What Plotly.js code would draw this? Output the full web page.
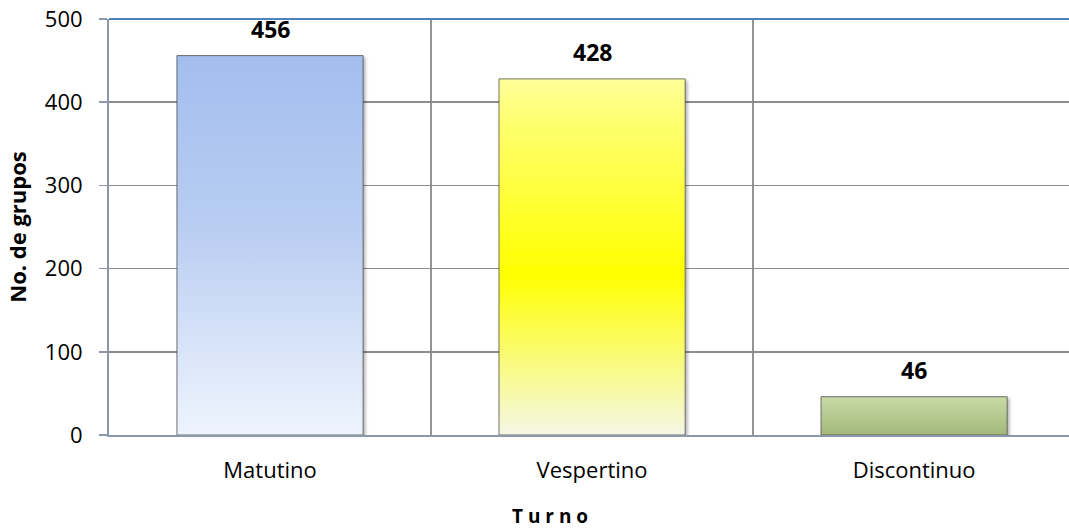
<!DOCTYPE html>
<html>
<head>
<meta charset="utf-8">
<script src="https://cdn.plot.ly/plotly-3.0.1.min.js"></script>
<style>html,body{margin:0;padding:0;background:#fff;overflow:hidden;}</style>
</head>
<body>
<div id="chart" style="width:1069px;height:531px;"></div>
<script>
// Data
var categories = ["Matutino", "Vespertino", "Discontinuo"];
var values = [456, 428, 46];
var yTicks = [0, 100, 200, 300, 400, 500];
var xTitle = "T u r n o";
var yTitle = "No. de grupos";

var gradients = [
  [["0%", "#A3BEEE"], ["45%", "#B9CDF2"], ["100%", "#EEF4FD"]],
  [["0%", "#FFFF9A"], ["12%", "#FFFF70"], ["55%", "#FFFF00"], ["100%", "#F4F7E6"]],
  [["0%", "#C9DAA6"], ["100%", "#A3B97B"]]
];

var trace = {
  type: "bar",
  x: categories,
  y: values,
  width: 0.578,
  marker: {
    color: ["#B9CDF2", "#FFFF33", "#B6C98F"],
    line: { color: "rgba(70,70,70,0.75)", width: 1 }
  },
  hoverinfo: "none",
  showlegend: false
};

var annotations = categories.map(function (c, i) {
  return {
    x: c, y: values[i], xref: "x", yref: "y",
    text: "<b>" + values[i] + "</b>",
    showarrow: false, yshift: 27,
    font: { family: "Open Sans, sans-serif", size: 23, color: "#000" }
  };
});
annotations.push({
  x: 0.459, y: 0, xref: "paper", yref: "paper",
  yanchor: "middle", yshift: -81,
  text: "<b>" + xTitle + "</b>", showarrow: false,
  font: { family: "Open Sans, sans-serif", size: 19, color: "#000" }
});

var layout = {
  width: 1069, height: 531,
  margin: { l: 109, r: 0, t: 19, b: 96 },
  paper_bgcolor: "#fff", plot_bgcolor: "#fff",
  bargap: 0.422,
  xaxis: {
    type: "category",
    range: [-0.5, 2.481],
    tickson: "boundaries",
    showgrid: true, gridcolor: "#949494", gridwidth: 2,
    ticks: "", ticklabelstandoff: 15,
    showline: true, linecolor: "#8C99AD", linewidth: 2,
    tickfont: { family: "Open Sans, sans-serif", size: 22, color: "#000" },
    fixedrange: true
  },
  yaxis: {
    range: [0, 500],
    tickvals: yTicks,
    showgrid: true, gridcolor: "#8C8C8C", gridwidth: 1.5,
    zeroline: false,
    ticks: "outside", ticklen: 8, tickcolor: "#8C99AD", tickwidth: 1.5,
    ticklabelstandoff: 12,
    showline: true, linecolor: "#8C99AD", linewidth: 2,
    tickfont: { family: "Open Sans, sans-serif", size: 22, color: "#000" },
    title: { text: "<b>" + yTitle + "</b>", standoff: 12,
             font: { family: "Open Sans, sans-serif", size: 22, color: "#000" } },
    fixedrange: true
  },
  shapes: [{
    type: "line", xref: "paper", yref: "paper",
    x0: 0, x1: 1, y0: 1, y1: 1,
    line: { color: "#4F81BD", width: 2 }
  }],
  annotations: annotations
};

Plotly.newPlot("chart", [trace], layout, { displayModeBar: false, staticPlot: true }).then(function (gd) {
  var svgNS = "http://www.w3.org/2000/svg";
  var svg = gd.querySelector("svg.main-svg");
  var defs = svg.querySelector("defs") || svg.insertBefore(document.createElementNS(svgNS, "defs"), svg.firstChild);
  gradients.forEach(function (stops, i) {
    var g = document.createElementNS(svgNS, "linearGradient");
    g.setAttribute("id", "barGrad" + i);
    g.setAttribute("x1", "0"); g.setAttribute("y1", "0");
    g.setAttribute("x2", "0"); g.setAttribute("y2", "1");
    stops.forEach(function (s) {
      var st = document.createElementNS(svgNS, "stop");
      st.setAttribute("offset", s[0]);
      st.setAttribute("stop-color", s[1]);
      g.appendChild(st);
    });
    defs.appendChild(g);
  });
  var f = document.createElementNS(svgNS, "filter");
  f.setAttribute("id", "barShadow");
  f.setAttribute("x", "-10%"); f.setAttribute("y", "-10%");
  f.setAttribute("width", "130%"); f.setAttribute("height", "130%");
  f.innerHTML = '<feDropShadow dx="2" dy="2" stdDeviation="1.5" flood-color="#000" flood-opacity="0.3"/>';
  defs.appendChild(f);
  var paths = gd.querySelectorAll(".barlayer .point path");
  paths.forEach(function (p, i) {
    p.style.fill = "url(#barGrad" + i + ")";
    p.style.fillOpacity = 1;
    p.setAttribute("filter", "url(#barShadow)");
  });
});
</script>
</body>
</html>
